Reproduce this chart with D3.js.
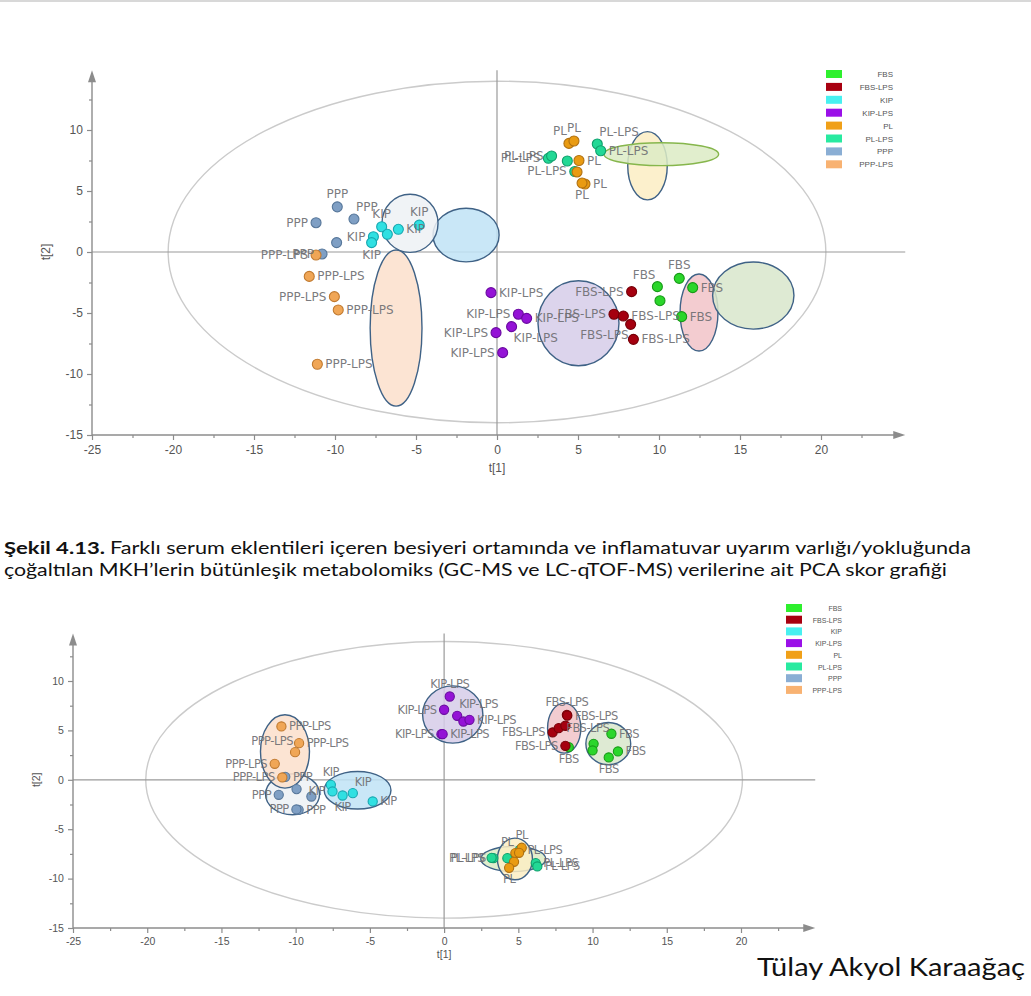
<!DOCTYPE html>
<html>
<head>
<meta charset="utf-8">
<script src="https://cdnjs.cloudflare.com/ajax/libs/d3/7.8.5/d3.min.js"></script>
<style>
  body { margin: 0; background: #fff; }
  svg { display: block; }
</style>
</head>
<body>
<svg id="chart" width="1031" height="996"></svg>
<script>
// ---- data ----
const groups = ['FBS', 'FBS-LPS', 'KIP', 'KIP-LPS', 'PL', 'PL-LPS', 'PPP', 'PPP-LPS'];
const xTicks = [-25, -20, -15, -10, -5, 0, 5, 10, 15, 20];
const yTicks = [-15, -10, -5, 0, 5, 10];

// upper plot, PCA scores [group, t1, t2]
const topScores = [
  ['PPP', -9.86, 3.70], ['PPP', -11.17, 2.40], ['PPP', -8.83, 2.70], ['PPP', -9.90, 0.77], ['PPP', -10.80, -0.16],
  ['PPP-LPS', -11.17, -0.25], ['PPP-LPS', -11.59, -2.00], ['PPP-LPS', -10.04, -3.66], ['PPP-LPS', -9.80, -4.75], ['PPP-LPS', -11.09, -9.20],
  ['KIP', -7.12, 2.07], ['KIP', -4.80, 2.20], ['KIP', -6.09, 1.86], ['KIP', -7.63, 1.25], ['KIP', -6.77, 1.45], ['KIP', -7.74, 0.77],
  ['KIP-LPS', -0.37, -3.33], ['KIP-LPS', 1.32, -5.10], ['KIP-LPS', 1.83, -5.44], ['KIP-LPS', 0.90, -6.12], ['KIP-LPS', -0.06, -6.61], ['KIP-LPS', 0.35, -8.25],
  ['PL-LPS', 4.80, 6.60], ['PL-LPS', 3.17, 7.68], ['PL-LPS', 3.37, 7.87], ['PL-LPS', 4.34, 7.46], ['PL-LPS', 6.19, 8.85], ['PL-LPS', 6.40, 8.30],
  ['PL', 4.44, 8.90], ['PL', 4.75, 9.10], ['PL', 5.06, 7.50], ['PL', 4.94, 6.56], ['PL', 5.43, 5.57], ['PL', 5.25, 5.65],
  ['FBS-LPS', 8.31, -3.25], ['FBS-LPS', 7.22, -5.10], ['FBS-LPS', 7.80, -5.25], ['FBS-LPS', 8.25, -5.93], ['FBS-LPS', 8.42, -7.16],
  ['FBS', 9.90, -2.84], ['FBS', 11.25, -2.16], ['FBS', 12.08, -2.92], ['FBS', 10.06, -3.99], ['FBS', 11.40, -5.30]
];
// group ellipses [group, centre t1, centre t2, half-width t1, half-height t2]
const topEllipses = [
  ['KIP', -1.91, 1.39, 2.04, 2.20],
  ['PPP', -5.37, 2.35, 1.73, 2.38],
  ['PPP-LPS', -6.23, -6.23, 1.60, 6.40],
  ['KIP-LPS', 5.03, -5.84, 2.50, 3.48],
  ['PL', 9.29, 7.07, 1.22, 2.80],
  ['PL-LPS', 10.14, 8.02, 3.54, 0.94],
  ['FBS-LPS', 12.47, -4.96, 1.17, 3.16],
  ['FBS', 15.82, -3.57, 2.51, 2.75]
];
const topHotelling = [20.3, 14.0];

// lower plot, PCA scores [group, t1, t2]
const bottomScores = [
  ['PPP', -11.14, -1.52], ['PPP', -9.94, -0.94], ['PPP', -8.94, -1.69], ['PPP', -9.80, -3.04], ['PPP', -9.95, -3.00], ['PPP', -10.70, 0.30],
  ['PPP-LPS', -10.96, 5.40], ['PPP-LPS', -9.77, 3.71], ['PPP-LPS', -10.04, 2.80], ['PPP-LPS', -11.41, 1.62], ['PPP-LPS', -10.90, 0.24],
  ['KIP', -7.63, -0.51], ['KIP', -7.52, -1.18], ['KIP', -6.84, -1.59], ['KIP', -6.15, -1.35], ['KIP', -4.81, -2.19],
  ['KIP-LPS', 0.38, 8.43], ['KIP-LPS', 0.00, 7.09], ['KIP-LPS', 0.88, 6.48], ['KIP-LPS', 1.30, 5.90], ['KIP-LPS', 1.71, 6.07], ['KIP-LPS', -0.18, 4.62], ['KIP-LPS', -0.10, 4.62],
  ['PL-LPS', 5.10, -7.10], ['PL-LPS', 3.32, -7.93], ['PL-LPS', 3.20, -7.90], ['PL-LPS', 4.26, -7.93], ['PL-LPS', 6.17, -8.43], ['PL-LPS', 6.28, -8.77],
  ['PL', 5.23, -6.88], ['PL', 4.80, -7.42], ['PL', 5.05, -7.39], ['PL', 4.71, -8.30], ['PL', 4.38, -8.91],
  ['FBS', 8.40, 3.30],
  ['FBS-LPS', 8.27, 6.58], ['FBS-LPS', 8.30, 6.50], ['FBS-LPS', 7.31, 4.79], ['FBS-LPS', 7.72, 5.23], ['FBS-LPS', 8.17, 5.47], ['FBS-LPS', 8.17, 3.44],
  ['FBS', 11.27, 4.66], ['FBS', 10.07, 3.64], ['FBS', 10.00, 2.97], ['FBS', 11.71, 2.87], ['FBS', 11.09, 2.26]
];
const bottomEllipses = [
  ['PPP', -10.21, -1.47, 1.82, 2.07],
  ['PPP-LPS', -10.72, 2.87, 1.65, 3.71],
  ['KIP', -5.83, -1.06, 2.25, 1.90],
  ['KIP-LPS', 0.58, 6.61, 2.03, 2.90],
  ['FBS-LPS', 8.09, 5.23, 1.12, 2.53],
  ['FBS', 11.06, 3.66, 1.51, 2.14],
  ['PL-LPS', 4.66, -8.02, 2.19, 1.27],
  ['PL', 4.77, -8.01, 1.18, 2.11]
];
const bottomHotelling = [20.1, 14.0];

const captionBold = 'Şekil 4.13.';
const captionLine1 = 'Farklı serum eklentileri içeren besiyeri ortamında ve inflamatuvar uyarım varlığı/yokluğunda';
const captionLine2 = 'çoğaltılan MKH’lerin bütünleşik metabolomiks (GC-MS ve LC-qTOF-MS) verilerine ait PCA skor grafiği';
const author = 'Tülay Akyol Karaağaç';

// ---- layout / styles ----
// where each score label sits relative to its point (same order as the score arrays)
const topLabelSide = ('a l ar n l  l r l r r  a a r l n b  r l r br l l  l l l n ar r  al a r n r b  l l r bl r  al a r n r').trim().split(/\s+/);
const bottomLabelSide = ('l n n r l r  r r al l l  a l b ar r  a l ar n r l r  r l l n r r  a al n n b  b  a r l r n l  r n n r b').trim().split(/\s+/);

const pointFill = {
  'FBS': '#2bd62b', 'FBS-LPS': '#a5000f', 'KIP': '#30e0e2', 'KIP-LPS': '#9413d6',
  'PL': '#e99b12', 'PL-LPS': '#22d895', 'PPP': '#7f9fc4', 'PPP-LPS': '#f0a656'
};
const pointStroke = {
  'FBS': '#189a18', 'FBS-LPS': '#760008', 'KIP': '#17a7b0', 'KIP-LPS': '#6a0aa0',
  'PL': '#b07010', 'PL-LPS': '#0f9f6c', 'PPP': '#57779a', 'PPP-LPS': '#c07a30'
};
const legendFill = {
  'FBS': '#2ef02e', 'FBS-LPS': '#a80010', 'KIP': '#48f0f0', 'KIP-LPS': '#9a10e8',
  'PL': '#f0a018', 'PL-LPS': '#28eaa0', 'PPP': '#8aaed4', 'PPP-LPS': '#f8b272'
};
const ellipseFill = {
  'FBS': '#d8e6cb', 'FBS-LPS': '#f1c3c8', 'KIP': '#bfe3f6', 'KIP-LPS': '#d6cce9',
  'PL': '#fbedc3', 'PL-LPS': '#dcebc4', 'PPP': '#edf1f5', 'PPP-LPS': '#fbdfcb'
};

const svg = d3.select('#chart');

// thin border line along the very top of the page
svg.append('line')
  .attr('x1', 0).attr('x2', 1031).attr('y1', 1).attr('y2', 1)
  .attr('stroke', '#d8d8d8').attr('stroke-width', 2);

function labelPos(side, px, py, r) {
  switch (side) {
    case 'r': return [px + r + 3, py + 4, 'start'];
    case 'l': return [px - r - 3, py + 4, 'end'];
    case 'a': return [px, py - r - 4, 'middle'];
    case 'b': return [px, py + r + 11, 'middle'];
    case 'ar': return [px + 2, py - r - 3, 'start'];
    case 'al': return [px - 2, py - r - 3, 'end'];
    case 'br': return [px + 2, py + r + 10, 'start'];
    case 'bl': return [px - 2, py + r + 10, 'end'];
  }
  return null;
}

function drawPlot(o) {
  const x = d3.scaleLinear().domain([-25, 20]).range([o.left, o.right]);
  const y = d3.scaleLinear().domain([-15, 10]).range([o.bottom, o.top]);
  const g = svg.append('g');
  const axisColor = '#8c8c8c';

  // Hotelling T2 ellipse
  g.append('ellipse')
    .attr('cx', x(0)).attr('cy', y(0))
    .attr('rx', x(o.hotelling[0]) - x(0))
    .attr('ry', y(0) - y(o.hotelling[1]))
    .attr('fill', 'none')
    .attr('stroke', '#cbcbcb')
    .attr('stroke-width', 1.4);

  // zero lines
  g.append('line')
    .attr('x1', x(-25)).attr('x2', x(o.xEnd))
    .attr('y1', y(0)).attr('y2', y(0))
    .attr('stroke', '#9a9a9a').attr('stroke-width', 1.2);
  g.append('line')
    .attr('x1', x(0)).attr('x2', x(0))
    .attr('y1', y(-15)).attr('y2', y(o.yEnd))
    .attr('stroke', '#9a9a9a').attr('stroke-width', 1.2);

  // axes
  const xAxis = g.append('g').attr('transform', `translate(0,${y(-15)})`)
    .call(d3.axisBottom(x).tickValues(xTicks).tickSize(5).tickSizeOuter(0).tickFormat(d => String(d)));
  g.append('g').attr('transform', `translate(0,${y(-15)})`)
    .call(d3.axisBottom(x).tickValues(d3.range(-22.5, 25, 5)).tickSize(3).tickFormat(''));
  const yAxis = g.append('g').attr('transform', `translate(${x(-25)},0)`)
    .call(d3.axisLeft(y).tickValues(yTicks).tickSize(5).tickSizeOuter(0).tickFormat(d => String(d)));
  g.append('g').attr('transform', `translate(${x(-25)},0)`)
    .call(d3.axisLeft(y).tickValues(d3.range(-12.5, 15, 5)).tickSize(3).tickFormat(''));

  g.selectAll('.domain').remove();
  g.selectAll('.tick line').attr('stroke', axisColor).attr('stroke-width', 1.2);
  g.selectAll('.tick text')
    .attr('fill', '#555')
    .style('font-family', '"Liberation Sans", Arial, sans-serif')
    .style('font-size', o.tickFont + 'px');
  xAxis.selectAll('.tick text').attr('dy', '0.9em');
  yAxis.selectAll('.tick text').attr('dx', '-0.1em');

  // axis lines with arrow heads
  g.append('line')
    .attr('x1', x(-25)).attr('x2', x(o.xEnd) - 6)
    .attr('y1', y(-15)).attr('y2', y(-15))
    .attr('stroke', axisColor).attr('stroke-width', 1.4);
  g.append('path')
    .attr('d', `M${x(o.xEnd)},${y(-15)} l-12,-4 l0,8 z`)
    .attr('fill', axisColor);
  g.append('line')
    .attr('x1', x(-25)).attr('x2', x(-25))
    .attr('y1', y(-15)).attr('y2', y(o.yEnd) + 6)
    .attr('stroke', axisColor).attr('stroke-width', 1.4);
  g.append('path')
    .attr('d', `M${x(-25)},${y(o.yEnd)} l-4,12 l8,0 z`)
    .attr('fill', axisColor);

  // axis titles
  g.append('text')
    .attr('x', x(0)).attr('y', o.xTitleY)
    .attr('text-anchor', 'middle')
    .attr('fill', '#555')
    .style('font-family', '"Liberation Sans", Arial, sans-serif')
    .style('font-size', o.tickFont + 'px')
    .text('t[1]');
  g.append('text')
    .attr('transform', `translate(${o.yTitleX},${y(0)}) rotate(-90)`)
    .attr('text-anchor', 'middle')
    .attr('fill', '#555')
    .style('font-family', '"Liberation Sans", Arial, sans-serif')
    .style('font-size', o.tickFont + 'px')
    .text('t[2]');

  // group ellipses
  g.selectAll('.grp-ellipse')
    .data(o.ellipses)
    .enter()
    .append('ellipse')
    .attr('class', 'grp-ellipse')
    .attr('cx', d => x(d[1]))
    .attr('cy', d => y(d[2]))
    .attr('rx', d => x(d[1] + d[3]) - x(d[1]))
    .attr('ry', d => y(d[2] - d[4]) - y(d[2]))
    .attr('fill', d => ellipseFill[d[0]])
    .attr('fill-opacity', 0.85)
    .attr('stroke', d => (o.greenPlLps && d[0] === 'PL-LPS') ? '#86b64c' : '#3f6286')
    .attr('stroke-width', 1.4);

  // score points
  g.selectAll('.score')
    .data(o.scores)
    .enter()
    .append('circle')
    .attr('class', 'score')
    .attr('cx', d => x(d[1]))
    .attr('cy', d => y(d[2]))
    .attr('r', o.r)
    .attr('fill', d => pointFill[d[0]])
    .attr('stroke', d => pointStroke[d[0]])
    .attr('stroke-width', 1.1);

  // point labels
  o.scores.forEach((d, i) => {
    const p = labelPos(o.sides[i], x(d[1]), y(d[2]), o.r);
    if (!p) return;
    g.append('text')
      .attr('x', p[0]).attr('y', p[1])
      .attr('text-anchor', p[2])
      .attr('fill', '#6e6e72')
      .attr('fill-opacity', 0.92)
      .style('font-family', '"DejaVu Sans", Verdana, sans-serif')
      .style('font-size', o.labelFont + 'px')
      .style('letter-spacing', o.labelSpacing + 'px')
      .text(d[0]);
  });

  // legend
  const leg = g.append('g');
  groups.forEach((name, i) => {
    const cy = o.legY + i * o.legStep;
    leg.append('rect')
      .attr('x', o.legX).attr('y', cy - 4)
      .attr('width', 16).attr('height', 8)
      .attr('fill', legendFill[name]);
    leg.append('text')
      .attr('x', o.legTextX).attr('y', cy + 3)
      .attr('text-anchor', 'end')
      .attr('fill', '#555')
      .style('font-family', '"Liberation Sans", Arial, sans-serif')
      .style('font-size', o.legFont + 'px')
      .text(name);
  });
}

drawPlot({
  left: 92, right: 821, bottom: 435, top: 130,
  xEnd: 25.2, yEnd: 14.9,
  scores: topScores, sides: topLabelSide, ellipses: topEllipses, hotelling: topHotelling,
  r: 5, labelFont: 12, labelSpacing: 0, tickFont: 12, xTitleY: 472, yTitleX: 50,
  greenPlLps: true,
  legX: 826, legTextX: 893, legY: 74, legStep: 12.9, legFont: 8
});

drawPlot({
  left: 73, right: 741, bottom: 928, top: 681,
  xEnd: 25.0, yEnd: 14.8,
  scores: bottomScores, sides: bottomLabelSide, ellipses: bottomEllipses, hotelling: bottomHotelling,
  r: 4.6, labelFont: 11.5, labelSpacing: -0.5, tickFont: 10.5, xTitleY: 958, yTitleX: 40,
  greenPlLps: false,
  legX: 786, legTextX: 842, legY: 608, legStep: 11.7, legFont: 7
});

// caption
const capFont = 'Lato, "Open Sans", sans-serif';
svg.append('text')
  .attr('x', 4).attr('y', 554)
  .attr('textLength', 101).attr('lengthAdjust', 'spacingAndGlyphs')
  .style('font-family', capFont).style('font-size', '17px').style('font-weight', 'bold')
  .attr('fill', '#111')
  .text(captionBold);
svg.append('text')
  .attr('x', 110).attr('y', 554)
  .attr('textLength', 861).attr('lengthAdjust', 'spacingAndGlyphs')
  .style('font-family', capFont).style('font-size', '17px')
  .attr('fill', '#111')
  .text(captionLine1);
svg.append('text')
  .attr('x', 4).attr('y', 576)
  .attr('textLength', 943).attr('lengthAdjust', 'spacingAndGlyphs')
  .style('font-family', capFont).style('font-size', '17px')
  .attr('fill', '#111')
  .text(captionLine2);

svg.append('text')
  .attr('x', 757).attr('y', 976)
  .attr('textLength', 268).attr('lengthAdjust', 'spacingAndGlyphs')
  .style('font-family', capFont).style('font-size', '25px')
  .attr('fill', '#111')
  .text(author);
</script>
</body>
</html>
